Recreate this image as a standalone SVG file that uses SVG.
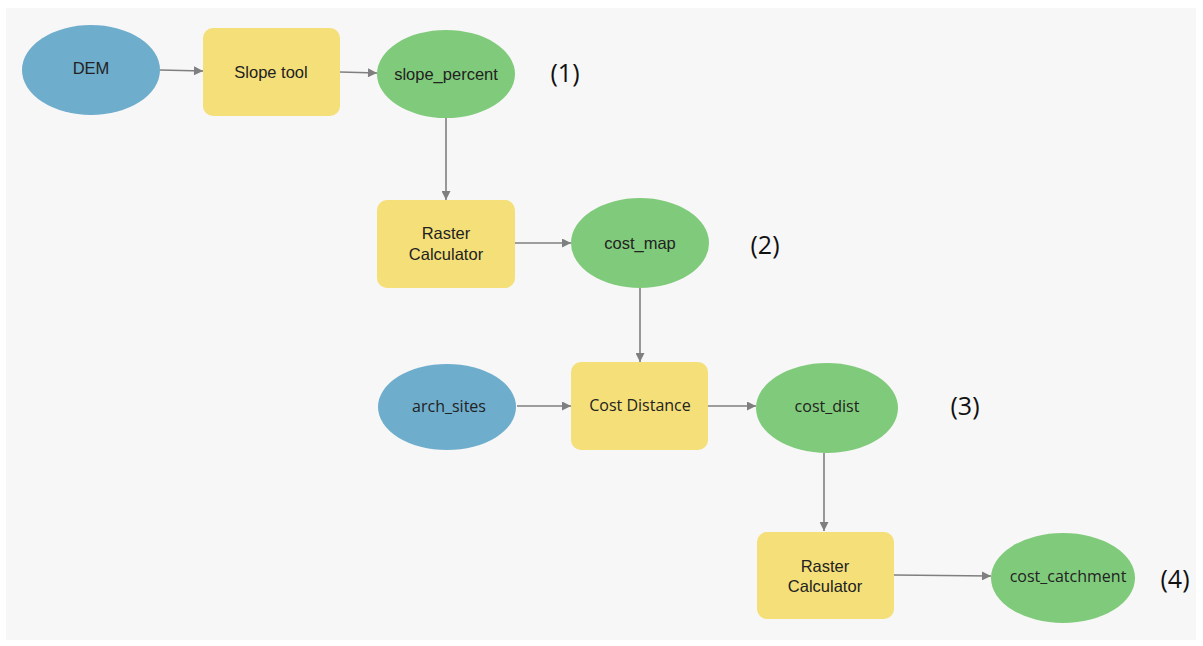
<svg xmlns="http://www.w3.org/2000/svg" width="1203" height="646" viewBox="0 0 1203 646">
<defs>
<style>
.bg{fill:#f7f7f7}
.in{fill:#6eadcc}
.tool{fill:#f4df79}
.out{fill:#80cb7b}
.t{font-family:"Liberation Sans",Arial,sans-serif;font-size:16.5px;fill:#222;text-anchor:middle;dominant-baseline:central}
.s{font-family:"Open Sans","Liberation Sans",sans-serif;font-size:16px;fill:#222;text-anchor:middle;dominant-baseline:central}
.n{font-family:"Open Sans","Liberation Sans",sans-serif;font-size:25px;fill:#111;text-anchor:middle;dominant-baseline:central}
.c{stroke:#7f7f7f;stroke-width:1.6;fill:none;marker-end:url(#a)}
</style>
<marker id="a" viewBox="0 0 10 10" refX="10" refY="5" markerWidth="10" markerHeight="9" markerUnits="userSpaceOnUse" orient="auto"><path d="M0,0L10,5L0,10z" fill="#7f7f7f"/></marker>
</defs>
<rect width="1203" height="646" fill="#ffffff"/>
<rect class="bg" x="6" y="8" width="1190" height="632"/>
<g id="connectors">
<path class="c" d="M160,70L203,71"/>
<path class="c" d="M340,72L377,73"/>
<path class="c" d="M446,118L446,200"/>
<path class="c" d="M515,243L571,243"/>
<path class="c" d="M640,288L640,362"/>
<path class="c" d="M517,406L571,406"/>
<path class="c" d="M708,406L756,406"/>
<path class="c" d="M824,453L824,531"/>
<path class="c" d="M894,575L991,576"/>
</g>
<g id="dem"><ellipse class="in" cx="91" cy="70" rx="69" ry="45"/><text class="t" x="91" y="68" font-size="15">DEM</text></g>
<g id="slope_tool"><rect class="tool" x="203" y="28" width="137" height="88" rx="10"/><text class="t" x="271" y="72">Slope tool</text></g>
<g id="slope_percent"><ellipse class="out" cx="446" cy="74" rx="69" ry="44"/><text class="t" x="446" y="74">slope_percent</text></g>
<g id="label1"><text class="n" x="565" y="72">(1)</text></g>
<g id="raster_calc1"><rect class="tool" x="377" y="200" width="138" height="88" rx="10"/><text class="t" x="446" y="233">Raster</text><text class="t" x="446" y="254">Calculator</text></g>
<g id="cost_map"><ellipse class="out" cx="640" cy="243" rx="69" ry="45"/><text class="t" x="640" y="243">cost_map</text></g>
<g id="label2"><text class="n" x="765" y="244">(2)</text></g>
<g id="arch_sites"><ellipse class="in" cx="447" cy="407" rx="69" ry="43"/><text class="s" x="449" y="406">arch_sites</text></g>
<g id="cost_distance"><rect class="tool" x="571" y="362" width="137" height="88" rx="10"/><text class="s" x="640" y="405">Cost Distance</text></g>
<g id="cost_dist"><ellipse class="out" cx="827" cy="408" rx="71" ry="45"/><text class="s" x="827" y="406">cost_dist</text></g>
<g id="label3"><text class="n" x="965" y="405">(3)</text></g>
<g id="raster_calc2"><rect class="tool" x="757" y="532" width="137" height="87" rx="10"/><text class="t" x="825" y="566">Raster</text><text class="t" x="825" y="586">Calculator</text></g>
<g id="cost_catchment"><ellipse class="out" cx="1063" cy="578" rx="72" ry="45"/><text class="s" x="1068" y="576" font-size="15.5">cost_catchment</text></g>
<g id="label4"><text class="n" x="1175" y="578">(4)</text></g>
</svg>
